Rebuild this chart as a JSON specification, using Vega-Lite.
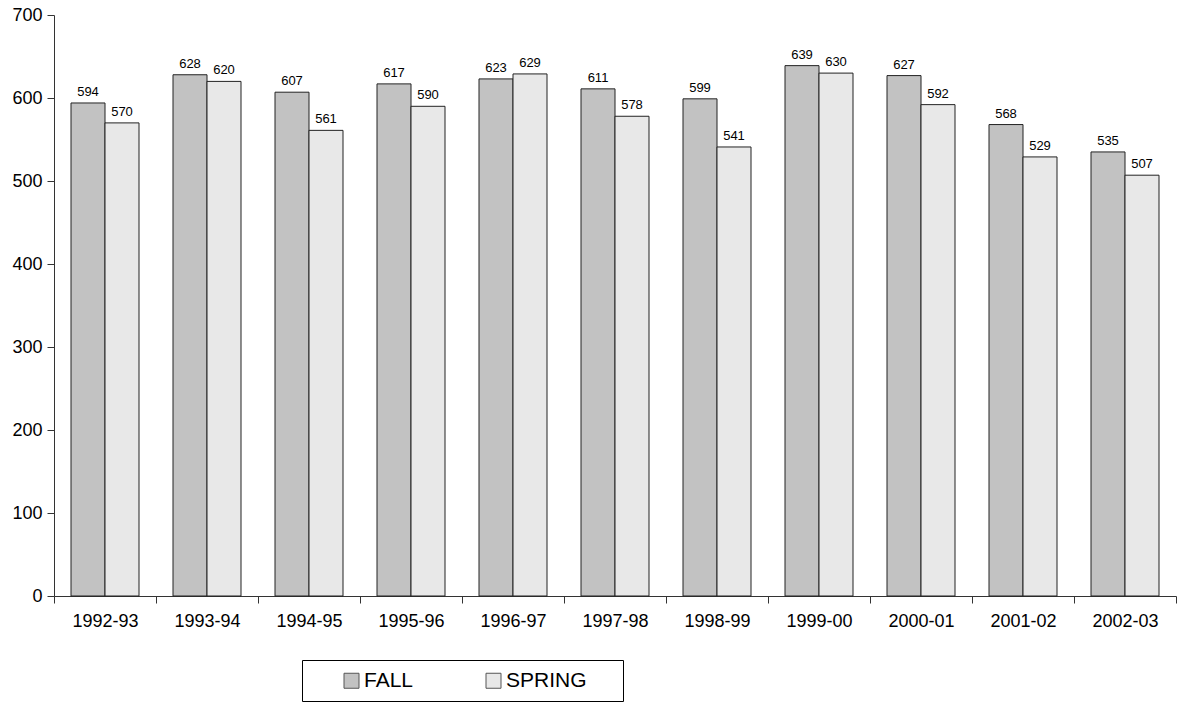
{
  "$schema": "https://vega.github.io/schema/vega-lite/v6.json",
  "autosize": "none",
  "width": 1122,
  "height": 581,
  "padding": {"left": 54, "top": 15, "right": 4, "bottom": 111},
  "background": "white",
  "config": {"font": "Liberation Sans", "view": {"stroke": null}},
  "data": {"values": [
    {"year": "1992-93", "term": "FALL", "value": 594},
    {"year": "1992-93", "term": "SPRING", "value": 570},
    {"year": "1993-94", "term": "FALL", "value": 628},
    {"year": "1993-94", "term": "SPRING", "value": 620},
    {"year": "1994-95", "term": "FALL", "value": 607},
    {"year": "1994-95", "term": "SPRING", "value": 561},
    {"year": "1995-96", "term": "FALL", "value": 617},
    {"year": "1995-96", "term": "SPRING", "value": 590},
    {"year": "1996-97", "term": "FALL", "value": 623},
    {"year": "1996-97", "term": "SPRING", "value": 629},
    {"year": "1997-98", "term": "FALL", "value": 611},
    {"year": "1997-98", "term": "SPRING", "value": 578},
    {"year": "1998-99", "term": "FALL", "value": 599},
    {"year": "1998-99", "term": "SPRING", "value": 541},
    {"year": "1999-00", "term": "FALL", "value": 639},
    {"year": "1999-00", "term": "SPRING", "value": 630},
    {"year": "2000-01", "term": "FALL", "value": 627},
    {"year": "2000-01", "term": "SPRING", "value": 592},
    {"year": "2001-02", "term": "FALL", "value": 568},
    {"year": "2001-02", "term": "SPRING", "value": 529},
    {"year": "2002-03", "term": "FALL", "value": 535},
    {"year": "2002-03", "term": "SPRING", "value": 507}
  ]},
  "encoding": {
    "x": {"field": "year", "type": "nominal", "sort": null,
      "scale": {"paddingInner": 0, "paddingOuter": 0},
      "axis": {"title": null, "labelAngle": 0, "labelFontSize": 18, "labelColor": "black",
        "domainColor": "#333", "tickColor": "#333", "tickBand": "extent", "tickSize": 7, "labelPadding": 9}},
    "xOffset": {"field": "term", "type": "nominal", "scale": {"paddingInner": 0, "paddingOuter": 0.5}},
    "y": {"field": "value", "type": "quantitative",
      "scale": {"domain": [0, 700]},
      "axis": {"title": null, "values": [0,100,200,300,400,500,600,700], "grid": false,
        "labelFontSize": 18, "labelColor": "black", "domainColor": "#333", "tickColor": "#333",
        "tickSize": 7, "labelPadding": 5}}
  },
  "layer": [
    {"mark": {"type": "bar", "stroke": "#222", "strokeWidth": 1},
     "encoding": {
       "color": {"field": "term", "type": "nominal",
         "scale": {"domain": ["FALL", "SPRING"], "range": ["#c2c2c2", "#e8e8e8"]},
         "legend": {"title": "\u00a0", "titleOrient": "right", "titlePadding": 26, "titleFontSize": 10,
           "orient": "none", "direction": "horizontal",
           "legendX": 248, "legendY": 645, "padding": 10, "strokeColor": "black", "fillColor": "white",
           "symbolType": "square", "symbolSize": 225, "symbolStrokeColor": "#555", "symbolStrokeWidth": 1,
           "symbolOffset": 29, "labelFontSize": 21, "labelColor": "black", "columnPadding": 40, "labelOffset": 2}}
     }},
    {"mark": {"type": "text", "dy": -11, "fontSize": 13, "color": "black"},
     "encoding": {"text": {"field": "value", "type": "quantitative"}}}
  ]
}
